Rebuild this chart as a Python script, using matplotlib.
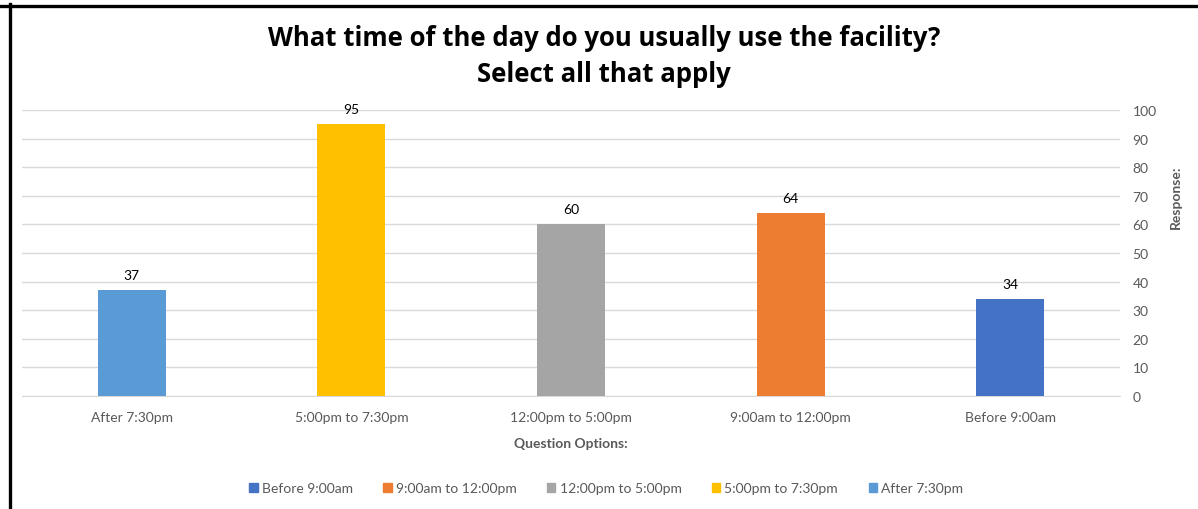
import matplotlib.pyplot as plt
from matplotlib.patches import Patch

# data, left to right as drawn
categories = ['After 7:30pm', '5:00pm to 7:30pm', '12:00pm to 5:00pm', '9:00am to 12:00pm', 'Before 9:00am']
responses = [37, 95, 60, 64, 34]
bar_colors = ['#5B9BD5', '#FFC000', '#A5A5A5', '#ED7D31', '#4472C4']
yticks = list(range(0, 101, 10))

plt.rcParams['font.family'] = ['Lato', 'DejaVu Sans']

fig = plt.figure(figsize=(11.98, 5.10), dpi=100)
ax = fig.add_axes([0.0184, 0.2216, 0.9165, 0.5608])

x = range(len(categories))
bars = ax.bar(x, responses, width=0.31, color=bar_colors, zorder=3)
for b, v in zip(bars, responses):
    ax.text(b.get_x() + b.get_width() / 2, v + 3.2, str(v), ha='center', va='bottom',
            fontsize=10, color='#000000')

ax.set_xlim(-0.5, len(categories) - 0.5)
ax.set_ylim(0, 100)
ax.set_yticks(yticks)
ax.yaxis.tick_right()
ax.grid(axis='y', color='#D9D9D9', linewidth=1, zorder=0)
for s in ['top', 'left', 'right']:
    ax.spines[s].set_visible(False)
ax.spines['bottom'].set_color('#D9D9D9')
ax.tick_params(axis='both', length=0, labelsize=10, labelcolor='#595959')
ax.tick_params(axis='y', pad=9)
ax.tick_params(axis='x', pad=11)
ax.set_xticks(list(x))
ax.set_xticklabels(categories)

ax.set_xlabel('Question Options:', fontsize=10, fontweight='bold', color='#595959', labelpad=10)
fig.text(1176 / 1198, 1 - 197 / 510, 'Response:', rotation=90, ha='center', va='center',
         fontsize=10, fontweight='bold', color='#595959')

fig.text(0.504, 0.889, 'What time of the day do you usually use the facility?\nSelect all that apply',
         ha='center', va='center', fontsize=18.5, fontweight='bold', linespacing=1.45,
         family=['Open Sans', 'DejaVu Sans'])

# legend lists series in reverse
handles = [Patch(color=c, label=l) for l, c in zip(categories[::-1], bar_colors[::-1])]
fig.legend(handles=handles, loc='center', bbox_to_anchor=(0.506, 0.041), ncol=5, frameon=False,
           fontsize=10, handlelength=0.6, handleheight=0.6, handletextpad=0.3, columnspacing=2.2,
           labelcolor='#595959')

# black frame at top and left
fig.add_artist(plt.Line2D([0, 1], [1 - 6.5 / 510] * 2, color='black', linewidth=2.4, transform=fig.transFigure))
fig.add_artist(plt.Line2D([9.5 / 1198] * 2, [0, 1 - 5 / 510], color='black', linewidth=2.4, transform=fig.transFigure))

fig.savefig('out.png', dpi=100)
